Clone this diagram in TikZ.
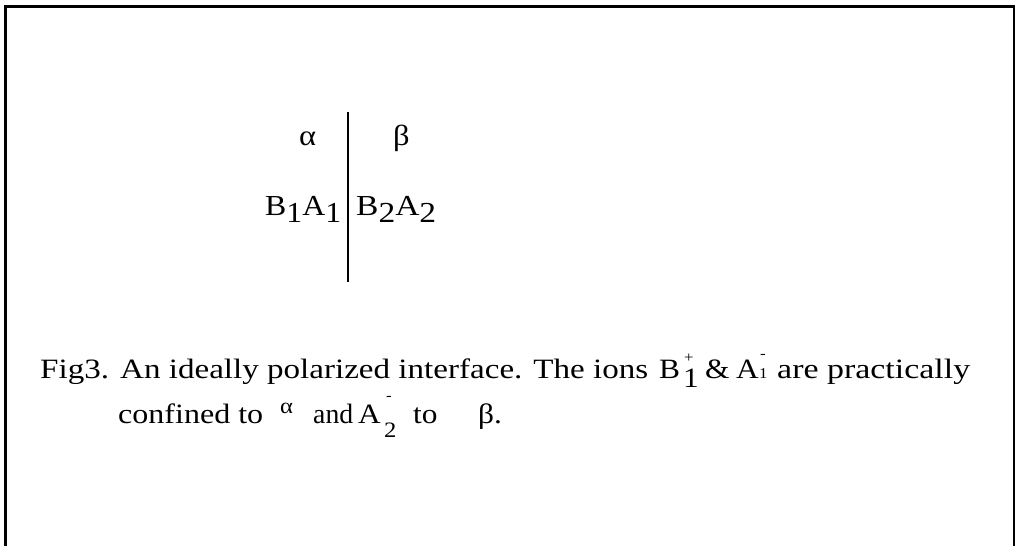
\documentclass[tikz,border=0pt]{standalone}
\usepackage{fontspec}
\usepackage{graphicx}
\setmainfont{Liberation Serif}[FakeStretch=1.12]
\newcommand{\fitw}[2]{\resizebox{#1}{\height}{#2}}
\newcommand{\lowd}[1]{\raisebox{-7pt}{#1}}
\begin{document}
\begin{tikzpicture}[x=1pt,y=-1pt]
\tikzset{
  frameline/.style={line width=2.2pt},
  barline/.style={line width=1.8pt},
  bigtxt/.style={inner sep=0pt, anchor=base west, font=\fontsize{29}{34}\selectfont},
  captxt/.style={inner sep=0pt, anchor=base west, font=\fontsize{28}{32}\selectfont},
  smalltxt/.style={inner sep=0pt, anchor=base west, font=\fontsize{22}{26}\selectfont},
  tinytxt/.style={inner sep=0pt, anchor=base west, font=\fontsize{15}{17}\selectfont}
}
\useasboundingbox (0,0) rectangle (1018,546);
\draw[frameline] (5.5,546) -- (5.5,6.5) -- (1014,6.5) -- (1014,546);
% upper diagram
\node[bigtxt] (alpha) at (299,145) {α};
\node[bigtxt] (beta) at (393,145) {β};
\node[bigtxt] (left) at (265,215) {\fitw{76pt}{B\lowd{1}A\lowd{1}}};
\node[bigtxt] (right) at (356,215) {\fitw{80pt}{B\lowd{2}A\lowd{2}}};
\coordinate (top) at (348,112);
\coordinate (bot) at (348,282);
\draw[barline] (top) -- (bot);
% caption line 1
\node[captxt] (c1) at (40,378) {\fitw{608pt}{Fig3. An ideally polarized interface. The ions}};
\node[captxt] (b1) at (659,378) {B};
\node[captxt] (b1s) at (683,387) {1};
\node[tinytxt] (b1p) at (684,362) {+};
\node[captxt] (amp) at (705,378) {\&};
\node[captxt] (a1) at (736,378) {A};
\node[tinytxt] (a1s) at (759,378) {1};
\node[tinytxt] (a1m) at (760,358) {-};
\node[captxt] (c1b) at (777,378) {\fitw{193pt}{are practically}};
% caption line 2
\node[captxt] (c2) at (118,423) {\fitw{145pt}{confined to}};
\node[smalltxt] (alpha2) at (280,413) {α};
\node[captxt] (and) at (313,423) {\fitw{40pt}{and}};
\node[captxt] (a2) at (358,423) {A};
\node[smalltxt] (a2s) at (384,437) {2};
\node[tinytxt] (a2m) at (386,400) {-};
\node[captxt] (to2) at (413,423) {to};
\node[captxt] (beta2) at (478,423) {β.};
\end{tikzpicture}
\end{document}
